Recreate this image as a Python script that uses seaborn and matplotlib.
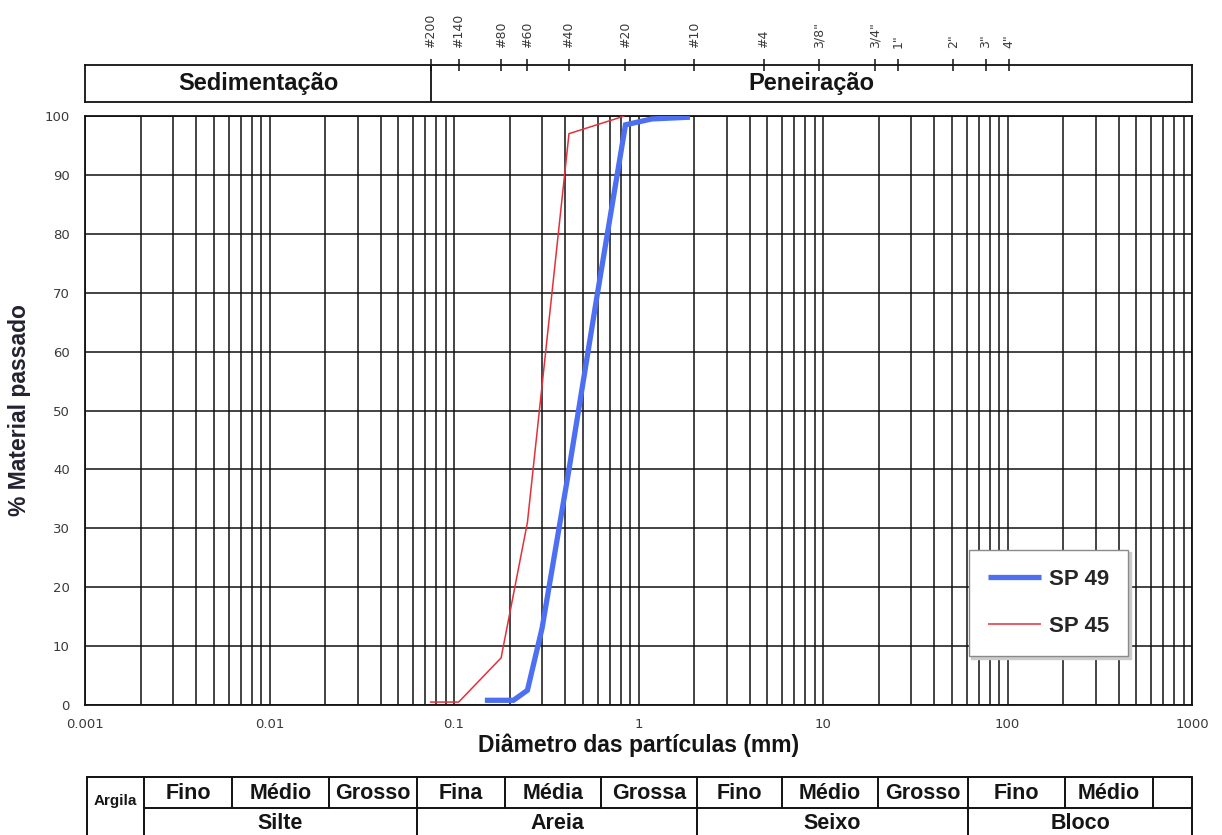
import matplotlib
matplotlib.use("Agg")
import matplotlib.pyplot as plt
from matplotlib.ticker import FixedLocator, LogLocator, NullFormatter
import pandas as pd
import seaborn as sns

# --- grain size distribution: diameter (mm) vs % passing -------------------
sp49_diam = [0.147, 0.21, 0.25, 0.30, 0.42, 0.60, 0.85, 1.0, 1.18, 1.9]
sp49_pass = [0.8, 0.8, 2.5, 13, 40, 70, 98.5, 99.0, 99.5, 99.8]
sp45_diam = [0.074, 0.106, 0.18, 0.25, 0.42, 0.84]
sp45_pass = [0.5, 0.5, 8, 31, 97, 100]
series_names = ["SP 49", "SP 45"]

# sieve openings shown on the upper scale
sieve_labels = ["#200", "#140", "#80", "#60", "#40", "#20", "#10", "#4",
                '3/8"', '3/4"', '1"', '2"', '3"', '4"']
sieve_sizes = [0.075, 0.106, 0.18, 0.25, 0.42, 0.85, 2.0, 4.76,
               9.5, 19.05, 25.4, 50.8, 76.2, 101.6]

x_ticks = [0.001, 0.01, 0.1, 1, 10, 100, 1000]
x_ticklabels = ["0.001", "0.01", "0.1", "1", "10", "100", "1000"]
y_ticks = list(range(0, 101, 10))

# classification table below the chart
upper_classes = ["Fino", "Médio", "Grosso", "Fina", "Média", "Grossa",
                 "Fino", "Médio", "Grosso", "Fino", "Médio", ""]
lower_classes = ["Silte", "Areia", "Seixo", "Bloco"]

df = pd.concat([
    pd.DataFrame({"diam": sp49_diam, "pct": sp49_pass, "amostra": series_names[0]}),
    pd.DataFrame({"diam": sp45_diam, "pct": sp45_pass, "amostra": series_names[1]}),
], ignore_index=True)

colors = {"SP 49": "#4d6ff2", "SP 45": "#e3313b"}
widths = {"SP 49": 3.8, "SP 45": 1.1}

sns.set_style("white")
plt.rcParams["font.family"] = ["DejaVu Sans"]
BOLD = ["Liberation Sans", "DejaVu Sans"]
TICK_C = "#3a3a3a"

W, H = 1222, 835
fig = plt.figure(figsize=(W / 100, H / 100), dpi=100)

# pixel layout helpers
def fx(px):
    return px / W

def fy(py):
    return 1 - py / H

L, R = 85, 1192
T, B = 116, 705
ax = fig.add_axes([fx(L), fy(B), fx(R - L), (B - T) / H])

for name in series_names:
    sns.lineplot(data=df[df["amostra"] == name], x="diam", y="pct", ax=ax,
                 color=colors[name], linewidth=widths[name], sort=False,
                 estimator=None, label=name, zorder=5,
                 solid_joinstyle="miter", solid_capstyle="butt")

ax.set_xscale("log")
ax.set_xlim(0.001, 1000)
ax.set_ylim(0, 100)
ax.xaxis.set_major_locator(FixedLocator(x_ticks))
ax.set_xticklabels(x_ticklabels)
ax.xaxis.set_minor_locator(LogLocator(base=10, subs=range(2, 10), numticks=100))
ax.xaxis.set_minor_formatter(NullFormatter())
ax.set_yticks(y_ticks)
ax.grid(True, which="both", axis="x", color="#111111", linewidth=1.1)
ax.grid(True, which="major", axis="y", color="#111111", linewidth=1.1)
ax.tick_params(axis="x", which="major", direction="out", length=5, width=1.1,
               color="#111111", labelsize=9.5, labelcolor=TICK_C, pad=4)
ax.tick_params(axis="x", which="minor", length=0)
ax.tick_params(axis="y", direction="out", length=5, width=1.1, color="#111111",
               labelsize=9.5, labelcolor=TICK_C, pad=6)
for sp in ax.spines.values():
    sp.set_visible(True)
    sp.set_color("#111111")
    sp.set_linewidth(1.3)

ax.set_xlabel("Diâmetro das partículas (mm)", fontsize=16.5, fontweight="bold",
              family=BOLD, color="#151515", labelpad=2)
ax.set_ylabel("% Material passado", fontsize=16.5, fontweight="bold",
              family=BOLD, color="#222233", labelpad=10)

leg = ax.legend(loc="lower right", bbox_to_anchor=(0.942, 0.083),
                prop={"family": BOLD, "weight": "bold", "size": 16},
                frameon=True, fancybox=False, edgecolor="#8a8a8a",
                framealpha=1, handlelength=2.4, handletextpad=0.35,
                labelspacing=1.2, borderpad=0.85, borderaxespad=0,
                shadow={"color": "0.8", "alpha": 1.0})
leg.get_frame().set_linewidth(1.0)
leg.set_zorder(10)

# --- upper band: sieve scale with Sedimentação / Peneiração boxes ---------
TB_TOP, TB_BOT = 65, 102
axt = fig.add_axes([fx(L), fy(TB_BOT), fx(R - L), (TB_BOT - TB_TOP) / H])
axt.set_xscale("log")
axt.set_xlim(0.001, 1000)
axt.set_ylim(0, 1)
axt.set_yticks([])
axt.xaxis.set_ticks_position("top")
axt.xaxis.set_major_locator(FixedLocator(sieve_sizes))
axt.set_xticklabels(sieve_labels, rotation=90)
axt.xaxis.set_minor_locator(FixedLocator([]))
axt.tick_params(axis="x", which="major", direction="inout", length=8, width=1.1,
                color="#111111", labelsize=9, labelcolor=TICK_C, pad=8)
for sp in axt.spines.values():
    sp.set_color("#111111")
    sp.set_linewidth(1.3)
axt.axvline(sieve_sizes[0], color="#111111", linewidth=1.3)
axt.text((0.001 * sieve_sizes[0]) ** 0.5, 0.5, "Sedimentação", ha="center",
         va="center", fontsize=17, fontweight="bold", family=BOLD, color="#151515")
axt.text((sieve_sizes[0] * 1000) ** 0.5, 0.5, "Peneiração", ha="center",
         va="center", fontsize=17, fontweight="bold", family=BOLD, color="#151515")

# --- classification table along the bottom --------------------------------
axb = fig.add_axes([0, 0, 1, 1])
axb.set_xlim(0, W)
axb.set_ylim(H, 0)
axb.axis("off")
axb.patch.set_alpha(0)

TAB_L, TAB_ARG, TAB_R = 87, 144, 1192
ROW0, ROW1, ROW2 = 777, 808, 840
upper_edges = [144, 232, 329, 417, 505, 601, 697, 782, 878, 968, 1065, 1153, 1192]
lower_edges = [144, 417, 697, 968, 1192]
lc = "#111111"
lw = 1.4
axb.plot([TAB_L, TAB_R], [ROW0, ROW0], color=lc, lw=lw)
axb.plot([TAB_ARG, TAB_R], [ROW1, ROW1], color=lc, lw=lw)
axb.plot([TAB_L, TAB_L], [ROW0, ROW2], color=lc, lw=lw)
for x in upper_edges:
    axb.plot([x, x], [ROW0, ROW1], color=lc, lw=lw)
for x in lower_edges:
    axb.plot([x, x], [ROW1, ROW2], color=lc, lw=lw)
for i, lab in enumerate(upper_classes):
    axb.text((upper_edges[i] + upper_edges[i + 1]) / 2, (ROW0 + ROW1) / 2 + 1, lab,
             ha="center", va="center", fontsize=15.5, fontweight="bold",
             family=BOLD, color="#151515")
for i, lab in enumerate(lower_classes):
    axb.text((lower_edges[i] + lower_edges[i + 1]) / 2, (ROW1 + 835) / 2 + 2, lab,
             ha="center", va="center", fontsize=15.5, fontweight="bold",
             family=BOLD, color="#151515")
axb.text((TAB_L + TAB_ARG) / 2, 801, "Argila", ha="center", va="center",
         fontsize=11, fontweight="bold", family=BOLD, color="#151515")

fig.savefig("out.png", dpi=100)
